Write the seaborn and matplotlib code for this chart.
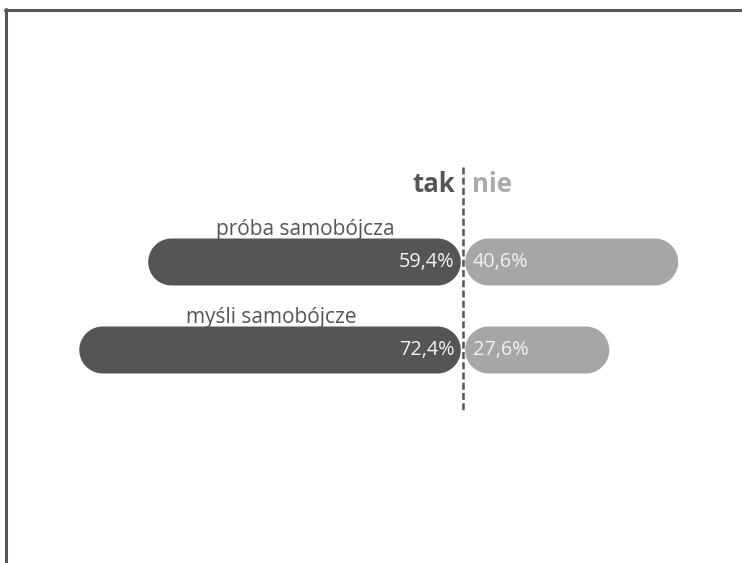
import numpy as np
import pandas as pd
import seaborn as sns
import matplotlib.pyplot as plt
from matplotlib.patches import Polygon
from matplotlib.lines import Line2D

categories = ['próba samobójcza', 'myśli samobójcze']
tak = [59.4, 72.4]
nie = [40.6, 27.6]
answers = ['tak', 'nie']

DARK = '#555555'
LIGHT = '#a6a6a6'

sns.set_theme(style='white')
plt.rcParams['font.family'] = ['Open Sans', 'DejaVu Sans']

rows = []
for c, t, n in zip(categories, tak, nie):
    rows.append({'kategoria': c, 'odpowiedz': 'tak', 'wartosc': -t})
    rows.append({'kategoria': c, 'odpowiedz': 'nie', 'wartosc': n})
df = pd.DataFrame(rows)

fig = plt.figure(figsize=(7.42, 5.63), dpi=100)
ax = fig.add_axes([0, 0, 1, 1])

# pixel geometry of the reference
px_x = 5.3      # px per percent
px_y = 88.0     # px per category row
x_center = 463
y_first = 262
bar_h = 47 / px_y
gap = 2.2 / px_x

sns.barplot(data=df, x='wartosc', y='kategoria', hue='odpowiedz', order=categories,
            hue_order=answers, palette=[DARK, LIGHT], dodge=False, width=bar_h,
            orient='h', legend=False, ax=ax)

ax.set_xlim(-x_center / px_x, (742 - x_center) / px_x)
ax.set_ylim((563 - y_first) / px_y, -y_first / px_y)
ax.axis('off')


def pill(x0, x1, y0, y1):
    # stadium shape with semicircular ends, in data units
    ry = (y1 - y0) / 2
    rx = ry * px_y / px_x
    yc = (y0 + y1) / 2
    t = np.linspace(-np.pi / 2, np.pi / 2, 40)
    right = np.column_stack([x1 - rx + rx * np.cos(t), yc + ry * np.sin(t)])
    left = np.column_stack([x0 + rx - rx * np.cos(t), yc - ry * np.sin(t)])
    return np.vstack([right, left])


# swap plain bars for pill shapes
for p in list(ax.patches):
    bb = p.get_bbox()
    x0, x1 = bb.xmin, bb.xmax
    if x1 <= 0:
        x1 -= gap
    else:
        x0 += gap
    shape = Polygon(pill(x0, x1, bb.ymin, bb.ymax), closed=True,
                    facecolor=p.get_facecolor(), edgecolor='none', zorder=2)
    p.remove()
    ax.add_patch(shape)

for i, (c, t, n) in enumerate(zip(categories, tak, nie)):
    ax.text(-t / 2, i - 27 / px_y, c, ha='center', va='baseline',
            fontsize=15, color=DARK)
    ax.text(-8.5 / px_x, i, f'{t:.1f}%'.replace('.', ','), ha='right', va='center',
            fontsize=14.3, color='#f2f2f2', zorder=3)
    ax.text(9.5 / px_x, i, f'{n:.1f}%'.replace('.', ','), ha='left', va='center',
            fontsize=14.3, color='#f2f2f2', zorder=3)

ax.text(-8 / px_x, -70 / px_y, 'tak', ha='right', va='baseline', fontsize=18.5,
        fontweight='bold', color=DARK)
ax.text(9 / px_x, -70 / px_y, 'nie', ha='left', va='baseline', fontsize=18.5,
        fontweight='bold', color='#aaaaaa')

ax.plot([0, 0], [-95 / px_y, 1 + 60 / px_y], color=DARK, lw=1.8,
        dashes=(2.8, 1.3), zorder=4)

# frame on top and left
fig.add_artist(Line2D([4.5 / 742, 1], [1 - 10 / 563, 1 - 10 / 563],
                      transform=fig.transFigure, color=DARK, lw=2.2))
fig.add_artist(Line2D([5.5 / 742, 5.5 / 742], [0, 1 - 9 / 563],
                      transform=fig.transFigure, color=DARK, lw=2.2))

fig.savefig('out.png', dpi=100)
